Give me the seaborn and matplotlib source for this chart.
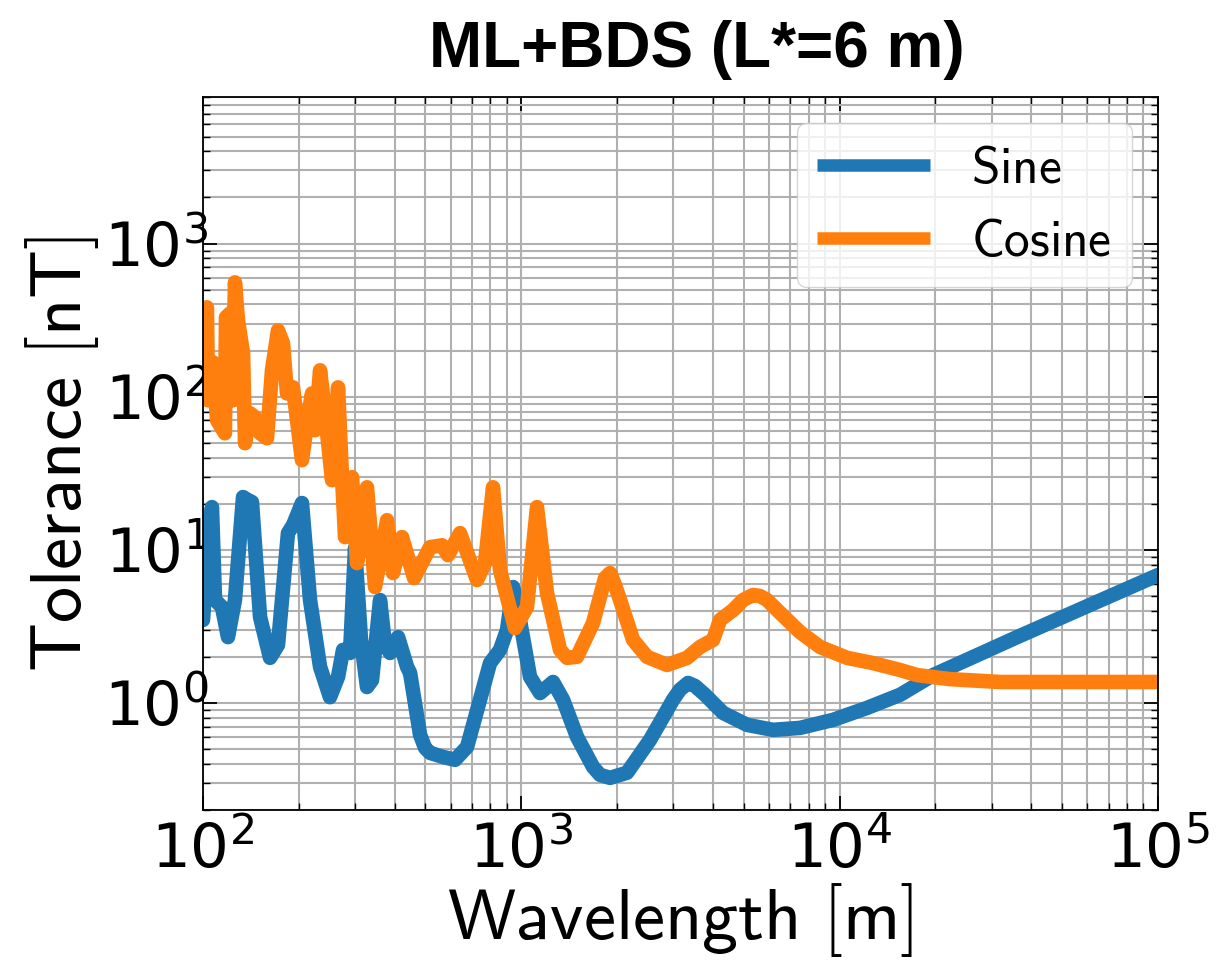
import matplotlib
matplotlib.use("Agg")
import matplotlib.pyplot as plt
import matplotlib.ticker as mticker
import seaborn as sns
import numpy as np
import pandas as pd

# ---- data ----
sine_wavelength = [100, 102.9, 106.7, 109.1, 114.7, 119.8, 126.0, 133.6, 138.5, 142.5,
                   151.1, 162.4, 172.0, 184.9, 191.8, 204.6, 216.9, 233.2, 250.6, 265.6,
                   275.4, 289.7, 300.3, 313.6, 327.5, 339.6, 359.9, 373.1, 386.9, 410.0,
                   437.6, 447.2, 480.6, 498.4, 516.6, 567.7, 619.2, 675.3, 741.7, 797.4, 857.1, 901.6,
                   941.7, 983.5, 1065, 1145, 1258, 1352, 1496, 1680, 1767, 1900, 2148,
                   2537, 2997, 3151, 3340, 3513, 3776, 4302, 5118, 6177, 7508, 9535, 12190,
                   15480, 19660, 36090, 58180, 100000]
sine_tolerance = [3.48, 8.57, 19.0, 4.70, 4.23, 2.69, 4.70, 22.1, 21.1, 20.5,
                  3.64, 1.97, 2.39, 12.85, 14.5, 20.2, 4.70, 1.72, 1.09, 1.48,
                  2.22, 2.12, 10.26, 2.58, 1.27, 1.41, 4.70, 2.39, 2.12, 2.69,
                  1.72, 1.57, 0.62, 0.509, 0.472, 0.444, 0.425, 0.516, 1.05, 1.82, 2.22, 2.99,
                  5.71, 3.75, 1.48, 1.16, 1.37, 1.05, 0.600, 0.382, 0.339, 0.324, 0.350,
                  0.574, 1.05, 1.22, 1.35, 1.29, 1.13, 0.861, 0.719, 0.667, 0.687, 0.775, 0.928,
                  1.13, 1.52, 2.69, 4.17, 6.84]

cosine_wavelength = [100, 102.9, 103.7, 107.5, 110.7, 117.2, 118.1, 121.6, 124.2, 126.0,
                     128.8, 133.6, 135.5, 140.5, 145.7, 151.1, 158.9, 164.7, 172.0, 178.4,
                     183.6, 191.8, 197.4, 204.6, 213.8, 220.0, 224.9, 233.2, 241.7, 254.3,
                     265.6, 273.4, 279.4, 293.9, 304.7, 327.5, 347.1, 378.6, 395.4, 422.0,
                     460.3, 516.6, 563.6, 588.6, 642.0, 725.8, 769.0, 814.8, 857.1, 955.4,
                     1042, 1120, 1204, 1323, 1392, 1496, 1680, 1832, 1900, 1970, 2042, 2244,
                     2483, 2869, 3316, 3643, 4003, 4210, 4626, 4973, 5346, 5623, 5916, 6500,
                     7508, 8677, 10550, 12730, 15480, 17510, 22230, 31920, 45810, 100000]
cosine_tolerance = [271, 383, 94.7, 167.6, 70.2, 57.7, 329.6, 350, 94.7, 558,
                    315, 192, 49.7, 77.9, 73.4, 57.7, 53.5, 148.7, 271, 223,
                    105, 115, 70.2, 38.5, 73.4, 105, 60.4, 148.7, 77.9, 28.5,
                    115, 29.8, 12.1, 29.8, 8.19, 25.6, 5.71, 15.6, 7.05, 12.1,
                    6.54, 10.4, 10.7, 9.23, 12.85, 6.35, 8.19, 25.6, 7.37, 3.08,
                    4.23, 19.0, 5.22, 2.22, 1.97, 2.00, 3.33, 6.54, 7.05, 5.88, 4.70, 2.58,
                    2.00, 1.77, 1.97, 2.32, 2.58, 3.48, 4.04, 4.70, 5.07, 4.99, 4.70, 3.87,
                    2.90, 2.32, 1.97, 1.82, 1.64, 1.52, 1.43, 1.37, 1.37, 1.37]

series_labels = [r"$\mathsf{Sine}$", r"$\mathsf{Cosine}$"]
series_colors = ["#1f77b4", "#ff7f0e"]
title_text = "ML+BDS (L*=6 m)"
xlabel_text = r"$\mathsf{Wavelength\ [m]}$"
ylabel_text = r"$\mathsf{Tolerance\ [nT]}$"

df = pd.concat([
    pd.DataFrame({"wavelength": sine_wavelength, "tolerance": sine_tolerance, "series": series_labels[0]}),
    pd.DataFrame({"wavelength": cosine_wavelength, "tolerance": cosine_tolerance, "series": series_labels[1]}),
], ignore_index=True)

sns.set_style("ticks")
plt.rcParams.update({
    "mathtext.fontset": "cm",
    "mathtext.default": "sf",
    "text.color": "black",
    "axes.labelcolor": "black",
    "xtick.color": "black",
    "ytick.color": "black",
    "axes.edgecolor": "black",
})

fig = plt.figure(figsize=(12.28, 9.6), dpi=100)
ax = fig.add_axes([0.1653, 0.1563, 0.7777, 0.7422])

sns.lineplot(data=df, x="wavelength", y="tolerance", hue="series",
             palette=dict(zip(series_labels, series_colors)), estimator=None,
             sort=False, linewidth=10.5, ax=ax)
for ln in ax.get_lines():
    ln.set_solid_joinstyle("round")

ax.set_xscale("log")
ax.set_yscale("log")
ax.set_xlim(100, 1e5)
ax.set_ylim(0.2, 9000)

def sf_log(v, pos):
    e = int(round(np.log10(v)))
    return r"$\mathdefault{10^{%d}}$" % e

ax.xaxis.set_major_formatter(mticker.FuncFormatter(sf_log))
ax.yaxis.set_major_formatter(mticker.FuncFormatter(sf_log))
ax.xaxis.set_minor_formatter(mticker.NullFormatter())
ax.yaxis.set_minor_formatter(mticker.NullFormatter())

ax.set_axisbelow(True)
ax.grid(True, which="both", color="#b0b0b0", linewidth=1.5)
ax.tick_params(which="both", direction="in", top=True, right=True, labelsize=44)
ax.tick_params(axis="y", pad=-4)
ax.tick_params(axis="x", pad=8)
ax.tick_params(which="major", length=10, width=1.3)
ax.tick_params(which="minor", length=5, width=1.0)
for s in ax.spines.values():
    s.set_linewidth(1.3)
    s.set_color("black")

ax.set_xlabel(xlabel_text, fontsize=52, labelpad=0)
ax.set_ylabel(ylabel_text, fontsize=52, labelpad=2)
ax.set_title(title_text, fontsize=46, fontweight="bold", family="Liberation Sans",
             pad=22, x=0.517, color="black")

leg = ax.legend(loc="upper right", fontsize=37, handlelength=2.2, framealpha=0.8,
                labelspacing=0.45)
for line in leg.get_lines():
    line.set_linewidth(9)
    line.set_solid_capstyle("butt")

fig.savefig("out.png", dpi=100)
